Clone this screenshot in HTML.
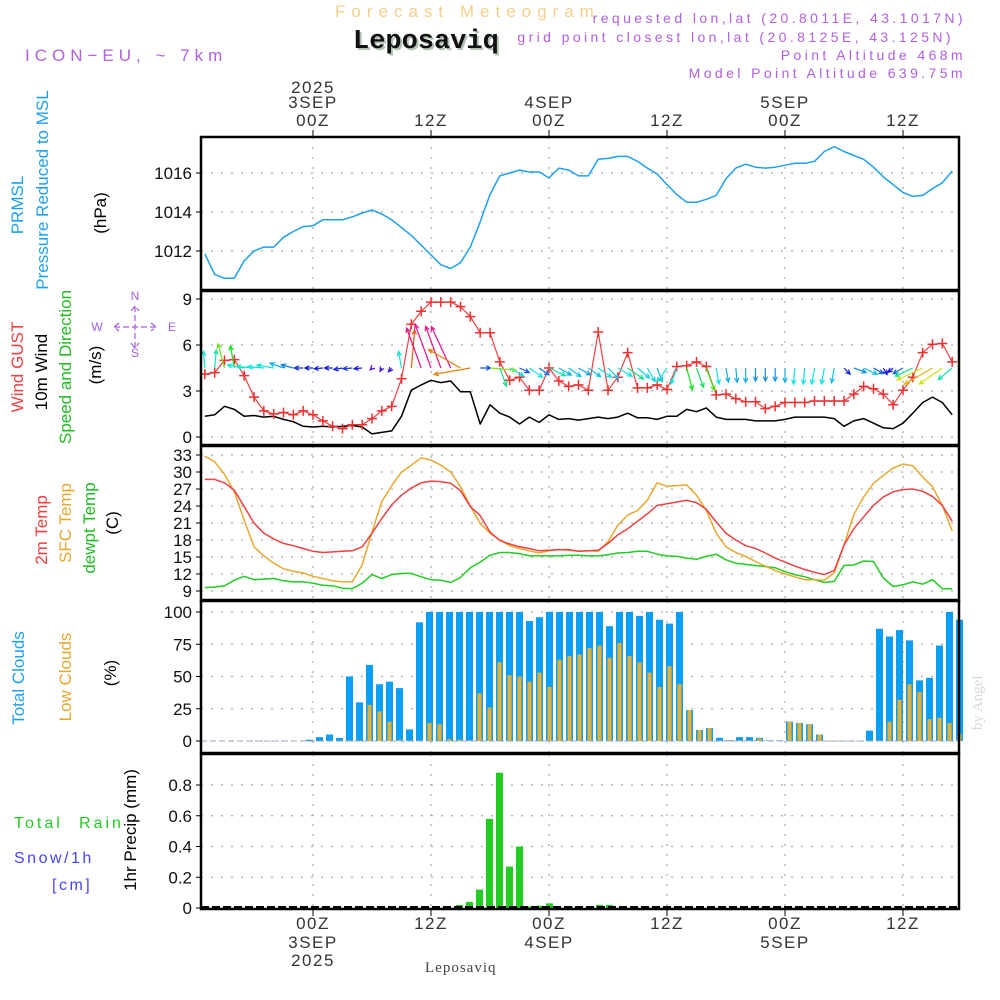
<!DOCTYPE html>
<html><head><meta charset="utf-8">
<style>
html,body{margin:0;padding:0;background:#fff;}
svg{display:block;font-family:"Liberation Sans",sans-serif;}
</style></head>
<body>
<svg id="chart" width="1000" height="1000" viewBox="0 0 1000 1000" xmlns="http://www.w3.org/2000/svg">
<rect width="1000" height="1000" fill="#fff"/>
<g id="hdr">
<text x="335" y="17" font-size="17" fill="#f4cf8a" letter-spacing="6">Forecast Meteogram</text>
<text x="355" y="50" font-size="27" font-weight="bold" font-family="Liberation Mono, monospace" fill="#b4c4b4">Leposaviq</text>
<text x="353" y="48" font-size="27" font-weight="bold" font-family="Liberation Mono, monospace" fill="#111">Leposaviq</text>
<g fill="#b060e0" font-size="14" letter-spacing="3.4" text-anchor="end">
<text x="966" y="23">requested lon,lat (20.8011E, 43.1017N)</text>
<text x="954" y="42">grid point closest lon,lat (20.8125E, 43.125N)</text>
<text x="966" y="60">Point Altitude 468m</text>
<text x="966" y="78">Model Point Altitude 639.75m</text>
</g>
<text x="25" y="61" font-size="17" fill="#b060e0" letter-spacing="5">ICON−EU, ~ 7km</text>
</g>
<g id="grid"></g>
<g id="marks"></g>
<g id="frame"></g>
<g id="labels" font-size="16"></g>
<text transform="translate(982,730) rotate(-90)" font-size="15" font-family="Liberation Serif, serif" fill="#d8d8d8">by Angel</text>
<text x="425" y="972" font-size="15" font-family="Liberation Serif, serif" fill="#444" letter-spacing="1">Leposaviq</text>
</svg>
<script>
// hours relative to 00Z 3 SEP, first point 13Z 2 SEP
const hourStart = -11;
const pressure = [1011.85,1010.8,1010.6,1010.6,1011.5,1012.0,1012.2,1012.2,1012.7,1013.0,1013.25,1013.3,1013.6,1013.6,1013.6,1013.75,1013.95,1014.1,1013.9,1013.6,1013.2,1012.8,1012.3,1011.8,1011.3,1011.1,1011.4,1012.2,1013.5,1014.9,1015.85,1016.0,1016.15,1016.05,1016.05,1015.75,1016.25,1016.15,1015.85,1015.85,1016.7,1016.75,1016.85,1016.85,1016.6,1016.25,1015.95,1015.4,1014.9,1014.5,1014.5,1014.65,1014.85,1015.7,1016.25,1016.45,1016.3,1016.25,1016.3,1016.4,1016.5,1016.5,1016.6,1017.1,1017.35,1017.1,1016.9,1016.7,1016.3,1015.8,1015.4,1015.0,1014.8,1014.85,1015.2,1015.5,1016.1];
const gust = [4.1,4.2,5.0,5.05,4.0,2.6,1.7,1.5,1.6,1.45,1.7,1.45,1.05,0.7,0.55,0.8,0.8,1.2,1.7,2.0,3.8,7.35,8.2,8.8,8.8,8.8,8.5,7.85,6.8,6.8,4.9,3.7,3.9,3.05,3.05,4.5,3.65,3.3,3.4,3.05,6.85,3.05,3.9,5.5,3.2,3.2,3.4,3.1,4.6,4.65,4.9,4.6,2.75,2.8,2.5,2.3,2.3,1.85,2.0,2.25,2.25,2.25,2.35,2.35,2.35,2.35,2.8,3.3,3.15,2.8,2.1,3.05,3.9,5.5,6.05,6.1,4.9];
const wind = [1.35,1.45,2.0,1.8,1.35,1.4,1.3,1.35,1.15,1.0,0.7,0.65,0.7,0.65,0.7,0.75,0.65,0.2,0.3,0.4,1.35,3.05,3.4,3.7,3.55,3.65,2.95,2.95,0.85,2.1,1.55,1.3,0.85,1.3,0.95,1.45,1.15,1.2,1.1,1.2,1.3,1.2,1.3,1.55,1.25,1.25,1.15,1.35,1.35,1.8,1.65,1.9,1.3,1.15,1.15,1.15,1.05,1.05,1.05,1.15,1.3,1.3,1.3,1.3,1.2,0.7,1.05,1.2,0.9,0.6,0.55,0.9,1.55,2.25,2.6,2.25,1.45];
const windDir = [355,5,345,350,280,275,275,280,290,285,270,270,265,270,260,265,265,225,210,220,350,5,340,340,340,335,300,260,90,95,160,120,115,125,125,115,120,125,120,125,125,135,120,125,130,150,160,215,200,165,160,160,170,170,175,180,180,180,180,180,185,185,190,190,190,135,110,115,120,150,230,240,245,245,240,235,230];
const temp2m = [28.7,28.7,28.1,26.8,23.9,21.0,19.2,18.2,17.4,17.0,16.5,16.0,15.8,15.9,16.0,16.1,16.8,19.2,21.8,24.2,25.9,27.2,28.1,28.4,28.3,28.0,26.7,23.9,22.3,19.4,17.9,17.3,16.8,16.5,16.1,16.2,16.3,16.3,16.0,16.1,16.2,17.4,18.9,20.0,21.3,22.6,24.1,24.4,24.7,25.0,24.6,23.4,21.2,19.2,18.0,17.0,16.5,15.7,14.8,14.1,13.4,12.8,12.3,11.9,12.6,17.1,20.0,22.1,24.1,25.6,26.5,26.9,27.0,26.6,25.7,24.1,21.3];
const tempSfc = [32.8,31.8,29.6,26.5,21.5,16.8,15.2,13.9,12.9,12.5,12.2,11.6,11.2,10.8,10.6,10.6,13.6,19.4,24.8,27.6,30.0,31.2,32.5,32.1,31.2,30.0,27.4,24.0,20.9,19.2,18.0,17.0,16.5,16.1,15.7,16.1,16.3,16.2,16.0,16.1,16.0,17.7,20.6,22.4,23.2,25.0,28.1,27.5,27.6,27.7,25.9,23.2,19.2,16.8,15.8,15.1,14.2,13.4,12.6,12.0,11.5,11.0,11.0,10.9,12.2,17.1,22.5,25.6,28.0,29.4,30.7,31.4,31.1,29.1,27.4,24.1,19.6];
const dewpt = [9.6,9.7,9.9,10.9,11.6,11.0,11.1,11.2,10.8,10.6,10.6,10.4,10.0,9.9,9.5,9.4,10.4,11.9,11.2,11.9,12.1,12.1,11.5,11.0,10.9,10.5,11.4,13.1,14.1,15.3,15.8,15.8,15.6,15.2,15.2,15.2,15.2,15.3,15.3,15.2,15.2,15.4,15.7,15.8,16.0,16.0,15.5,15.2,15.1,14.8,14.6,15.1,15.5,14.5,13.9,13.7,13.5,13.3,13.1,12.4,11.9,11.5,11.0,10.5,10.7,13.5,13.6,14.3,14.2,11.3,9.8,10.1,10.6,10.2,11.0,9.4,9.4];
// bar series (one bar per step, index 0 = first bar)
const cloudTotal = [1,3,5,2.3,50,30,59,44,46,41,9,92,100,100,100,100,100,100,100,100,100,100,93,96,100,100,100,100,100,100,89,100,100,97,100,94,91,100,24,8.5,10,2.5,0.7,3,3,2.5,0.5,0.5,15,14,13,5,0.3,0.3,0.3,0.3,8,87,81,86,78,47,49,74,100,94];
const cloudLow = [0,0,0,0,0.5,0.5,28,23,15,1,0.5,0.5,14,13,1.5,1,0.5,37,26,61,51,50,46,53,42,63,66,67,72,74,64.5,76,66,61,53,42,58,44,24,8.5,10,0.5,0.5,0.5,0.5,2,0.3,0.3,15,14,13,5,0.3,0.3,0.3,0.3,0.5,0.5,15,32,44,38,17,18,14,5.5];
const precip = [0,0,0,0,0,0,0,0,0,0,0,0,0,0,0,0.02,0.04,0.12,0.58,0.88,0.27,0.40,0.01,0.015,0.03,0,0.01,0,0,0.02,0.02,0,0,0,0,0,0,0,0,0,0,0,0,0,0,0,0,0,0,0,0,0,0,0,0,0,0,0,0,0,0,0,0,0,0,0];
const pressTicks = [1012,1014,1016];
const windTicks = [0,3,6,9];
const tempTicks = [9,12,15,18,21,24,27,30,33];
const cloudTicks = [0,25,50,75,100];
const precipTicks = [0,0.2,0.4,0.6,0.8];
const timeTicks = [0,12,24,36,48,60];
const timeLabels = ["00Z","12Z","00Z","12Z","00Z","12Z"];
const dayLabels = ["3SEP","","4SEP","","5SEP",""];

const NS="http://www.w3.org/2000/svg";
const X0=201,X1=959;
function xT(t){return 313+t*(118/12);}
function xBar(k){return 306+k*10;}
function lin(d0,d1,r0,r1){return v=>r0+(v-d0)*(r1-r0)/(d1-d0);}
const yP=lin(1012,1016,251,173), yW=lin(0,9,437,299), yT=lin(9,33,591,455), yC=lin(0,100,741,612), yR=lin(0,0.8,908,785);
function el(tag,attrs,parent){const e=document.createElementNS(NS,tag);for(const k in attrs)e.setAttribute(k,attrs[k]);parent.appendChild(e);return e;}
const grid=document.getElementById('grid'),marks=document.getElementById('marks'),frame=document.getElementById('frame'),labels=document.getElementById('labels');
const panels=[[137,290,yP,pressTicks,v=>v],[291,445,yW,windTicks,v=>v],[446,600,yT,tempTicks,v=>v],[601,753,yC,cloudTicks,v=>v],[754,909,yR,precipTicks,v=>v===0?"0":v.toFixed(1)]];
const pnames=['pressure','wind','temp','cloud','precip'];
panels.forEach((p,i)=>{
  const [top,bot,ys,ticks,fmt]=p;
  ticks.forEach(v=>{const y=ys(v);
    const g=el('line',{x1:X0,x2:X1,y1:y,y2:y,stroke:'#aaa','stroke-width':1.2,'stroke-dasharray':'2 8'},grid);
    
    
    const tk=el('line',{x1:X0-5,x2:X0,y1:y,y2:y,stroke:'#000'},frame);
    
    
    const t=el('text',{x:X0-9,y:y+6,'text-anchor':'end','font-size':17,fill:'#111'},labels);
    t.textContent=fmt(v);
    
    
  });
  timeTicks.forEach(tt=>{const x=xT(tt);
    const g=el('line',{x1:x,x2:x,y1:top,y2:bot,stroke:'#aaa','stroke-width':1.2,'stroke-dasharray':'2 8'},grid);
    
    
  });
  const r=el('rect',{x:X0,y:top,width:X1-X0,height:bot-top,fill:'none',stroke:'#000','stroke-width':2.5},frame);
  
  
});
timeTicks.forEach((tt,i)=>{const x=xT(tt);
  el('line',{x1:x,x2:x,y1:130,y2:137,stroke:'#000'},frame);
  el('line',{x1:x,x2:x,y1:909,y2:916,stroke:'#000'},frame);
  const a=el('text',{x:x,y:126,'text-anchor':'middle','font-size':17,fill:'#333','letter-spacing':1.5},labels);a.textContent=timeLabels[i];
  
  
  const b=el('text',{x:x,y:929,'text-anchor':'middle','font-size':17,fill:'#333','letter-spacing':1.5},labels);b.textContent=timeLabels[i];
  
  
  if(dayLabels[i]){
    const c=el('text',{x:x,y:108,'text-anchor':'middle','font-size':17,fill:'#333','letter-spacing':1.5},labels);c.textContent=dayLabels[i];
    
    
    const d=el('text',{x:x,y:948,'text-anchor':'middle','font-size':17,fill:'#333','letter-spacing':1.5},labels);d.textContent=dayLabels[i];
    
    
  }
});
const y1=el('text',{x:xT(0),y:93,'text-anchor':'middle','font-size':17,fill:'#333','letter-spacing':1.5},labels);y1.textContent='2025';


const y2=el('text',{x:xT(0),y:966,'text-anchor':'middle','font-size':17,fill:'#333','letter-spacing':1.5},labels);y2.textContent='2025';



function line(arr,ys,color,name,w){
  const pts=arr.map((v,i)=>xT(hourStart+i).toFixed(1)+','+ys(v).toFixed(1)).join(' ');
  const p=el('polyline',{points:pts,fill:'none',stroke:color,'stroke-width':w||1.5,'stroke-linejoin':'round'},marks);
  
  
  return p;
}
line(pressure,yP,'#1ea0f0','pressure-line');
cloudTotal.forEach((v,k)=>{const y=yC(v);
  const r=el('rect',{x:xBar(k),y:y,width:7,height:Math.max(0.6,yC(0)-y),fill:'#0a9ef5'},marks);
  
  
});
cloudLow.forEach((v,k)=>{const y=yC(v);
  const r=el('rect',{x:xBar(k)+1.5,y:y,width:4,height:Math.max(0.6,yC(0)-y),fill:'#e8b030'},marks);
  
  
});
el('line',{x1:X0,x2:X1,y1:yC(0),y2:yC(0),stroke:'#9ac',"stroke-dasharray":"6 3"},marks);
precip.forEach((v,k)=>{if(v<=0)return;const y=yR(v);
  const r=el('rect',{x:xBar(k),y:y,width:7,height:yR(0)-y,fill:'#22cc22'},marks);
  
  
});
el('line',{x1:X0,x2:X1,y1:yR(0)-1,y2:yR(0)-1,stroke:'#000','stroke-width':2,'stroke-dasharray':'8 3'},marks);
line(dewpt,yT,'#22cc22','dewpoint-line');
line(tempSfc,yT,'#e8a830','sfc-temp-line');
line(temp2m,yT,'#f04040','temp-2m-line');
line(wind,yW,'#000','wind-speed-line');
line(gust,yW,'#f04040','gust-line',1.2);
gust.forEach((v,i)=>{const x=xT(hourStart+i),y=yW(v);
  const m=el('path',{d:`M${x-5},${y}H${x+5}M${x},${y-5}V${y+5}`,stroke:'#f03030','stroke-width':1.5},marks);
  
  
});
function speedColor(s){
  const stops=[[0,270],[0.7,235],[1.2,190],[1.6,150],[2.0,95],[2.3,60],[3.0,30],[3.3,330],[4,320]];
  let h=stops[stops.length-1][1];
  for(let i=0;i<stops.length-1;i++){if(s>=stops[i][0]&&s<=stops[i+1][0]){const f=(s-stops[i][0])/(stops[i+1][0]-stops[i][0]);let a=stops[i][1],b=stops[i+1][1];if(b-a>180)b-=360;if(a-b>180)b+=360;h=(a+(b-a)*f+360)%360;break;}}
  if(s<stops[0][0])h=270;
  return `hsl(${h},85%,48%)`;
}
wind.forEach((s,i)=>{const x=xT(hourStart+i),y=yW(4.5);
  const L=12.5*s, a=windDir[i]*Math.PI/180;
  const hx=x+L*Math.sin(a), hy=y-L*Math.cos(a);
  const b1=a+Math.PI-0.45,b2=a+Math.PI+0.45,hl=5;
  const d=`M${x},${y}L${hx},${hy}M${hx+hl*Math.sin(b1)},${hy-hl*Math.cos(b1)}L${hx},${hy}L${hx+hl*Math.sin(b2)},${hy-hl*Math.cos(b2)}`;
  const p=el('path',{d:d,stroke:speedColor(s),'stroke-width':1.2,fill:'none'},marks);
  
  
});
function vt(txt,x,cy,color,name,size){const t=el('text',{transform:`translate(${x},${cy}) rotate(-90)`,'text-anchor':'middle','font-size':size||17,fill:color},labels);t.textContent=txt;
  
  }
vt('PRMSL',23,205,'#1ea0f0','prmsl-title');
vt('Pressure Reduced to MSL',48,190,'#1ea0f0','pressure-title');
vt('(hPa)',106,213,'#000','pressure-unit');
vt('Wind GUST',23,367,'#f04040','gust-title');
vt('10m Wind',47,372,'#000','wind-title');
vt('Speed and Direction',71,367,'#22bb22','direction-title');
vt('(m/s)',101,365,'#000','wind-unit');
vt('2m Temp',47,530,'#f04040','temp2m-title');
vt('SFC Temp',71,523,'#e8a830','sfc-temp-title');
vt('dewpt Temp',95,528,'#22bb22','dewpt-title');
vt('(C)',118,523,'#000','temp-unit');
vt('Total Clouds',24,678,'#1ea0f0','total-cloud-title');
vt('Low Clouds',71,677,'#e8a830','low-cloud-title');
vt('(%)',116,673,'#000','cloud-unit');
vt('1hr Precip (mm)',136,830,'#000','precip-title');
function ht(txt,x,y,color,name,ls){const t=el('text',{x:x,y:y,'font-size':16,fill:color,'letter-spacing':ls||1.5},labels);t.textContent=txt;
  
  }
ht('Total',14,828,'#22cc22','total-rain-label-1',3);
ht('Rain',79,828,'#22cc22','total-rain-label-2',3);
ht('Snow/1h',14,863,'#4444ff','snow-label',2.5);
ht('[cm]',52,890,'#4444ff','snow-unit',2.5);
const cg=el('g',{fill:'#a060e0','font-size':12,'text-anchor':'middle'},labels);


[['N',135,300],['S',135,357],['W',97,331],['E',172,331]].forEach(c=>{const t=el('text',{x:c[1],y:c[2]},cg);t.textContent=c[0];});
el('path',{d:'M114,327H156M135,306V348M119,323L114,327L119,331M151,323L156,327L151,331M131,311L135,306L139,311M131,343L135,348L139,343',stroke:'#a060e0','stroke-width':1.2,fill:'none','stroke-dasharray':'6 3'},cg);
</script>
</body></html>
